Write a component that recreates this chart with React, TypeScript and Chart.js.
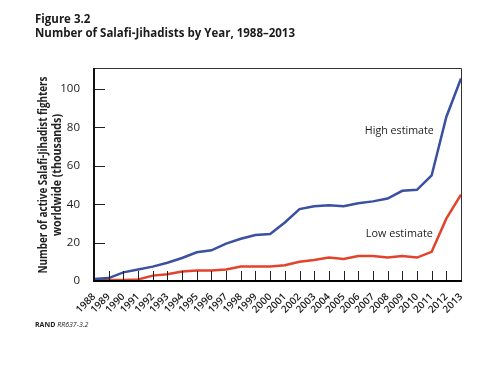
import { useEffect, useRef } from "react";
import { Chart, registerables } from "chart.js";

Chart.register(...registerables);

const years = [
  "1988", "1989", "1990", "1991", "1992", "1993", "1994", "1995", "1996",
  "1997", "1998", "1999", "2000", "2001", "2002", "2003", "2004", "2005",
  "2006", "2007", "2008", "2009", "2010", "2011", "2012", "2013",
];
const highEstimate = [
  1, 1.5, 4.5, 6, 7.5, 9.5, 12, 15, 16, 19.5, 22, 24, 24.5, 30.5, 37.5, 39,
  39.5, 39, 40.5, 41.5, 43, 47, 47.5, 55, 85.5, 105.5,
];
const lowEstimate = [
  0.5, 0.5, 0.5, 0.8, 2.8, 3.5, 5, 5.5, 5.5, 6, 7.5, 7.5, 7.5, 8.2, 10, 11,
  12.2, 11.5, 13, 13, 12.2, 13, 12.2, 15.2, 32.5, 45,
];
const yTickValues = [0, 20, 40, 60, 80, 100];
const yMax = 111;

const titleLine1 = "Figure 3.2";
const titleLine2 = "Number of Salafi-Jihadists by Year, 1988\u20132013";
const yTitle1 = "Number of active Salafi-Jihadist fighters";
const yTitle2 = "worldwide (thousands)";
const highLabel = "High estimate";
const lowLabel = "Low estimate";
const sourceBold = "RAND ";
const sourceItalic = "RR637-3.2";

const FONT = "'Open Sans', 'Noto Sans', sans-serif";

export default function App() {
  const ref = useRef<HTMLCanvasElement | null>(null);

  useEffect(() => {
    if (!ref.current) return;
    const decor = {
      id: "decor",
      beforeDraw(chart: any) {
        const ctx = chart.ctx;
        ctx.save();
        ctx.fillStyle = "#ffffff";
        ctx.fillRect(0, 0, chart.width, chart.height);
        ctx.restore();
      },
      afterDraw(chart: any) {
        const ctx = chart.ctx as CanvasRenderingContext2D;
        const a = chart.chartArea;
        const xs = chart.scales.x;
        const ys = chart.scales.y;
        ctx.save();
        // inward ticks on x axis
        ctx.strokeStyle = "#222";
        ctx.lineWidth = 1;
        for (let i = 0; i < years.length; i++) {
          const x = Math.round(xs.getPixelForValue(i)) + 0.5;
          ctx.beginPath();
          ctx.moveTo(x, a.bottom);
          ctx.lineTo(x, a.bottom - 10);
          ctx.stroke();
        }
        // inward ticks on y axis
        for (const v of yTickValues) {
          const y = Math.round(ys.getPixelForValue(v)) + 0.5;
          ctx.beginPath();
          ctx.moveTo(a.left, y);
          ctx.lineTo(a.left + 11, y);
          ctx.stroke();
        }
        // frame
        ctx.strokeStyle = "#333";
        ctx.lineWidth = 1;
        ctx.beginPath();
        ctx.moveTo(a.left, a.top + 0.5);
        ctx.lineTo(a.right + 0.5, a.top + 0.5);
        ctx.lineTo(a.right + 0.5, a.bottom);
        ctx.stroke();
        ctx.strokeStyle = "#111";
        ctx.lineWidth = 2;
        ctx.beginPath();
        ctx.moveTo(a.left, a.top);
        ctx.lineTo(a.left, a.bottom + 1);
        ctx.stroke();
        ctx.strokeStyle = "#000";
        ctx.beginPath();
        ctx.moveTo(a.left - 1, a.bottom);
        ctx.lineTo(a.right + 1, a.bottom);
        ctx.stroke();

        // titles
        ctx.fillStyle = "#1a1a1a";
        ctx.textAlign = "left";
        ctx.textBaseline = "alphabetic";
        ctx.font = `bold 11.5px ${FONT}`;
        ctx.fillText(titleLine1, 35, 23, 70);
        ctx.fillText(titleLine2, 35, 37, 267);

        // y title
        ctx.save();
        ctx.translate(44, 175);
        ctx.rotate(-Math.PI / 2);
        ctx.textAlign = "center";
        ctx.textBaseline = "middle";
        ctx.font = `bold 11.5px ${FONT}`;
        ctx.fillStyle = "#222";
        ctx.fillText(yTitle1, 0, 0, 197);
        ctx.fillText(yTitle2, 0, 13.5, 122);
        ctx.restore();

        // series labels
        ctx.font = `500 11px ${FONT}`;
        ctx.fillStyle = "#222";
        ctx.textAlign = "center";
        ctx.textBaseline = "middle";
        ctx.fillText(highLabel, xs.getPixelForValue(20.8), ys.getPixelForValue(78), 69);
        ctx.fillText(lowLabel, xs.getPixelForValue(20.8), ys.getPixelForValue(24.5), 67);

        // source
        ctx.textAlign = "left";
        ctx.textBaseline = "alphabetic";
        ctx.font = `bold 7px ${FONT}`;
        ctx.fillStyle = "#222";
        ctx.fillText(sourceBold, 35, 327);
        const w = ctx.measureText(sourceBold).width;
        ctx.font = `italic 7px ${FONT}`;
        ctx.fillText(sourceItalic, 35 + w, 327);
        ctx.restore();
      },
    };

    const chart = new Chart(ref.current, {
      type: "line",
      data: {
        labels: years,
        datasets: [
          {
            label: "High estimate",
            data: highEstimate,
            borderColor: "#3a50a0",
            borderWidth: 2.5,
            pointRadius: 0,
            tension: 0,
          },
          {
            label: "Low estimate",
            data: lowEstimate,
            borderColor: "#e2432b",
            borderWidth: 2.5,
            pointRadius: 0,
            tension: 0,
          },
        ],
      },
      options: {
        responsive: false,
        animation: false,
        layout: { padding: { left: 0, top: 68, right: 39, bottom: 0 } },
        plugins: {
          legend: { display: false },
          tooltip: { enabled: false },
          title: { display: false },
        },
        scales: {
          x: {
            type: "category",
            offset: false,
            grid: { display: false },
            border: { display: false },
            ticks: {
              autoSkip: false,
              maxRotation: 45,
              minRotation: 45,
              padding: 2,
              color: "#1a1a1a",
              font: { size: 10, family: FONT, weight: "600" },
            },
            afterFit(scale: any) {
              scale.height = 95;
            },
          },
          y: {
            min: 0,
            max: yMax,
            grid: { display: false },
            border: { display: false },
            afterBuildTicks(scale: any) {
              scale.ticks = yTickValues.map((v) => ({ value: v }));
            },
            ticks: {
              padding: 6,
              color: "#222",
              font: { size: 11.5, family: FONT, weight: "500" },
            },
            afterFit(scale: any) {
              scale.width = 94;
            },
          },
        },
      },
      plugins: [decor],
    });
    return () => chart.destroy();
  }, []);

  return (
    <div style={{ position: "fixed", left: 0, top: 0 }}>
      <canvas ref={ref} width={500} height={376} />
    </div>
  );
}
